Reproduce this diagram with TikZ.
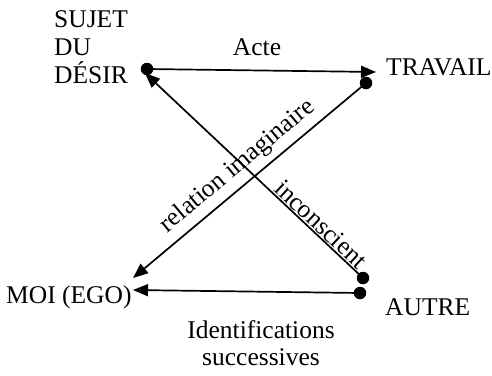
\documentclass[tikz,border=0pt]{standalone}
\usepackage{fontspec}
\setmainfont{Liberation Serif}
\usetikzlibrary{arrows.meta}
\begin{document}
\begin{tikzpicture}[x=1pt,y=-1pt,
  lbl/.style={font=\fontsize{25.5}{28}\selectfont, inner sep=0pt},
  dot/.style={circle, fill=black, minimum size=12.5pt, inner sep=0pt},
  arr/.style={line width=1.7pt, -{Triangle[length=15pt,width=12pt]}},
]
\useasboundingbox (0,0) rectangle (492,375);
\node[lbl, anchor=base west] (s1) at (54,27) {SUJET};
\node[lbl, anchor=base west] (s2) at (54,55) {DU};
\node[lbl, anchor=base west] (s3) at (54,83) {DÉSIR};
\node[lbl, anchor=base west] (trav) at (386,75) {TRAVAIL};
\node[lbl, anchor=base west] (moi) at (6,303) {MOI (EGO)};
\node[lbl, anchor=base west] (autre) at (385,315) {AUTRE};
\node[lbl, anchor=base] (acte) at (257,55) {Acte};
\node[lbl, anchor=base] (id1) at (261,338) {Identifications};
\node[lbl, anchor=base] (id2) at (261,365) {successives};

\node[dot] (dsujet) at (147,69) {};
\node[dot] (dtrav) at (366,83) {};
\node[dot] (dautre1) at (363,278) {};
\node[dot] (dautre2) at (360,293) {};
\coordinate (tipacte) at (376,72);
\coordinate (tipinc) at (145,73);
\coordinate (tiprel) at (133,278);
\coordinate (tipid) at (133,290);

\draw[arr] (dsujet.center) -- (tipacte);
\draw[arr] (dautre1.center) -- node[lbl, sloped, above=1pt, pos=0.225] (inc) {inconscient} (tipinc);
\draw[arr] (dtrav.center) -- node[lbl, sloped, above=6pt, pos=0.5] (rel) {relation imaginaire} (tiprel);
\draw[arr] (dautre2.center) -- (tipid);
\end{tikzpicture}
\end{document}
